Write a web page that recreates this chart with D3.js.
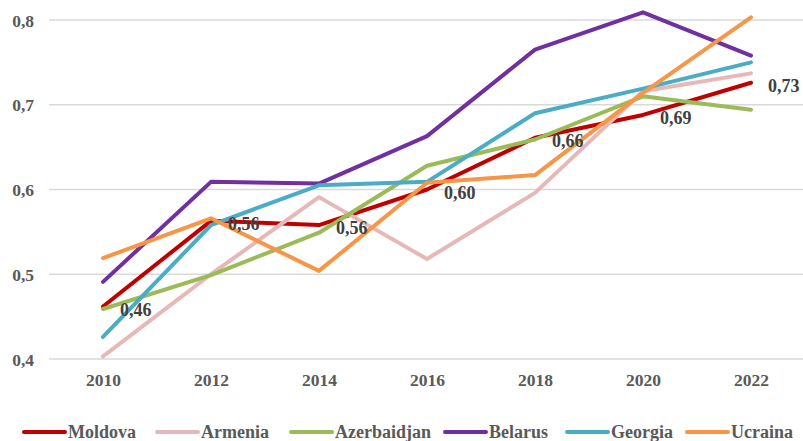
<!DOCTYPE html>
<html><head><meta charset="utf-8">
<script src="https://cdn.jsdelivr.net/npm/d3@7"></script>
<style>body{margin:0;background:#fff}svg{display:block}</style>
</head><body><svg id="c" width="803" height="441"></svg>
<script>
const years = ["2010","2012","2014","2016","2018","2020","2022"];
const yTicks = [0.4,0.5,0.6,0.7,0.8];
const seriesNames = ["Moldova","Armenia","Azerbaidjan","Belarus","Georgia","Ucraina"];
const seriesColors = ["#C00000","#E6B9B8","#9BBB59","#7030A0","#4BACC6","#F79646"];
const moldova     = [0.462,0.563,0.558,0.600,0.661,0.688,0.726];
const armenia     = [0.403,0.500,0.591,0.518,0.596,0.716,0.737];
const azerbaidjan = [0.459,0.499,0.549,0.628,0.659,0.710,0.694];
const belarus     = [0.491,0.609,0.607,0.663,0.765,0.809,0.758];
const georgia     = [0.426,0.558,0.605,0.609,0.690,0.719,0.750];
const ucraina     = [0.519,0.566,0.504,0.608,0.617,0.714,0.803];
const moldovaLabels = ["0,46","0,56","0,56","0,60","0,66","0,69","0,73"];
const seriesValues = [moldova,armenia,azerbaidjan,belarus,georgia,ucraina];

const svg = d3.select("#c");
const font = "'Liberation Serif','Times New Roman',serif";
const x = d3.scalePoint().domain(years).range([49,805]).padding(0.5);
const y = d3.scaleLinear().domain([0.4,0.8]).range([359,20]);
const fmt = v => d3.format(".1f")(v).replace(".", ",");

// gridlines
svg.append("g").selectAll("line").data(yTicks).join("line")
  .attr("x1",49).attr("x2",803)
  .attr("y1",d=>y(d)).attr("y2",d=>y(d))
  .attr("stroke","#d9d9d9").attr("stroke-width",1.3);

// y axis
const ya = svg.append("g").attr("transform","translate(34,0)")
  .call(d3.axisLeft(y).tickValues(yTicks).tickFormat(fmt).tickSize(0).tickPadding(0));
ya.select(".domain").remove();
ya.selectAll("text").attr("font-family",font).attr("font-weight","bold")
  .attr("font-size",17.5).attr("fill","#595959").attr("dy","0.35em");

// x axis
const xa = svg.append("g").attr("transform","translate(0,374)")
  .call(d3.axisBottom(x).tickSize(0).tickPadding(0));
xa.select(".domain").remove();
xa.selectAll("text").attr("font-family",font).attr("font-weight","bold")
  .attr("font-size",17.5).attr("fill","#595959").attr("dy","0.71em");

// lines
const line = d3.line().x((d,i)=>x(years[i])).y(d=>y(d));
svg.append("g").selectAll("path").data(seriesValues).join("path")
  .attr("d",line).attr("fill","none")
  .attr("stroke",(d,i)=>seriesColors[i]).attr("stroke-width",4)
  .attr("stroke-linejoin","round").attr("stroke-linecap","round");

// data labels (Moldova)
svg.append("g").selectAll("text").data(moldova).join("text")
  .attr("x",(d,i)=>x(years[i])+17).attr("y",(d,i)=>y(d)+3)
  .attr("dy","0.35em")
  .attr("font-family",font).attr("font-weight","bold").attr("font-size",18)
  .attr("fill","#404040").text((d,i)=>moldovaLabels[i]);

// legend
const legX = [24,157,291,445,567,687];
const lg = svg.append("g").selectAll("g").data(seriesNames).join("g")
  .attr("transform",(d,i)=>`translate(${legX[i]},432)`);
lg.append("line").attr("x1",0).attr("x2",41).attr("y1",0).attr("y2",0)
  .attr("stroke",(d,i)=>seriesColors[i]).attr("stroke-width",4).attr("stroke-linecap","round");
lg.append("text").attr("x",44).attr("y",0).attr("dy","0.35em")
  .attr("font-family",font).attr("font-weight","bold").attr("font-size",18)
  .attr("fill","#595959").text(d=>d);
</script></body></html>
